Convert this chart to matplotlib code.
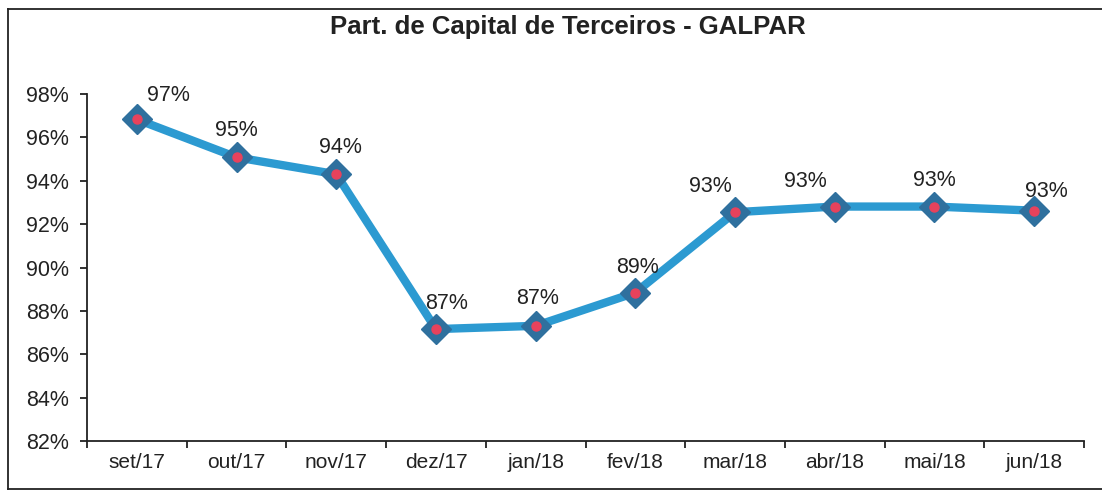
import matplotlib
matplotlib.use("Agg")
import matplotlib.pyplot as plt
from matplotlib.lines import Line2D
from matplotlib.ticker import FixedLocator, FuncFormatter

plt.rcParams['font.family'] = ['Liberation Sans', 'DejaVu Sans']

title = "Part. de Capital de Terceiros - GALPAR"
months = ["set/17", "out/17", "nov/17", "dez/17", "jan/18",
          "fev/18", "mar/18", "abr/18", "mai/18", "jun/18"]
values = [96.83, 95.08, 94.30, 87.16, 87.31, 88.84, 92.55, 92.81, 92.81, 92.62]
labels = ["97%", "95%", "94%", "87%", "87%", "89%", "93%", "93%", "93%", "93%"]
yticks = [82, 84, 86, 88, 90, 92, 94, 96, 98]

# label offsets in pixels (dx, dy)
label_offsets = [(32, 24), (0, 27), (4, 27), (11, 26), (2, 27),
                 (2, 25), (-25, 26), (-29, 25), (0, 26), (12, 19)]

W, H = 1102, 491
fig = plt.figure(figsize=(W / 100, H / 100), dpi=100)
fig.patch.set_facecolor("white")

# outer frame (left, top, bottom; right edge cut off)
fx0, fy_top, fy_bot = 8 / W, 1 - 9 / H, 1 - 489 / H
for xs, ys in [([fx0, fx0], [fy_bot, fy_top]),
               ([fx0, 1.0], [fy_top, fy_top]),
               ([fx0, 1.0], [fy_bot, fy_bot])]:
    fig.add_artist(Line2D(xs, ys, transform=fig.transFigure, color="#222222", lw=1.3))

ax = fig.add_axes([87 / W, 1 - 441 / H, (1084 - 87) / W, (441 - 94) / H])
x = list(range(len(months)))

ax.plot(x, values, color="#2C9AD1", lw=6, solid_joinstyle="round", zorder=2)
ax.plot(x, values, linestyle="none", marker="D", markersize=15.5,
        markerfacecolor="#2F709E", markeredgecolor="#2F709E", zorder=3)
ax.plot(x, values, linestyle="none", marker="o", markersize=6.5,
        markerfacecolor="#E8425C", markeredgecolor="#E8425C", zorder=4)

for xi, v, lab, (dx, dy) in zip(x, values, labels, label_offsets):
    ax.annotate(lab, (xi, v), xytext=(dx * 0.72, dy * 0.72), textcoords="offset points",
                ha="center", va="center", fontsize=15.5, color="#222222")

ax.set_xlim(-0.5, len(months) - 0.5)
ax.set_ylim(82, 98)

ax.xaxis.set_major_locator(FixedLocator([i - 0.5 for i in range(len(months) + 1)]))
ax.xaxis.set_major_formatter(FuncFormatter(lambda v, p: ""))
ax.set_xticks(x, months, minor=True)
ax.tick_params(axis="x", which="major", direction="out", length=5, width=1.3, color="#222222")
ax.tick_params(axis="x", which="minor", length=0, pad=9, labelsize=15, labelcolor="#222222")

ax.set_yticks(yticks)
ax.yaxis.set_major_formatter(FuncFormatter(lambda v, p: f"{v:.0f}%"))
ax.tick_params(axis="y", direction="out", length=5, width=1.3, color="#222222",
               labelsize=15.5, labelcolor="#222222", pad=8)

for s in ["top", "right"]:
    ax.spines[s].set_visible(False)
for s in ["left", "bottom"]:
    ax.spines[s].set_color("#222222")
    ax.spines[s].set_linewidth(1.3)

fig.text(568 / W, 1 - 27 / H, title, ha="center", va="center",
         fontsize=18.5, fontweight="bold", color="#222222")

fig.savefig("out.png", dpi=100, facecolor="white")
